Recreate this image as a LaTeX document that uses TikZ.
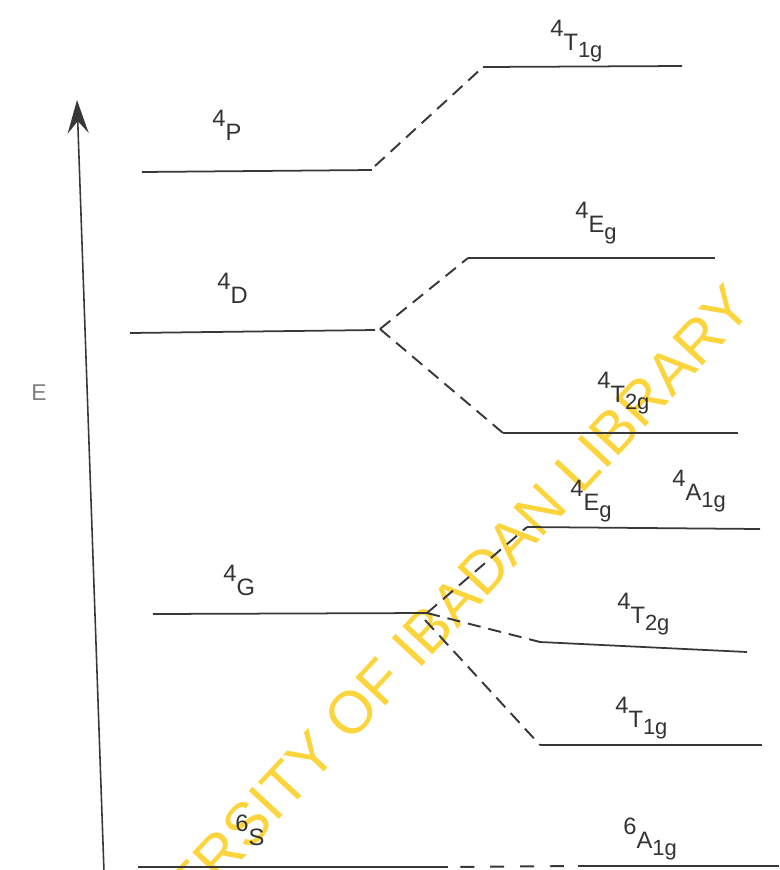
\documentclass[tikz,border=0pt]{standalone}
\usepackage{fontspec}
\setmainfont{Liberation Sans}
\usepackage{xcolor}
\usepackage{tikz}
\usetikzlibrary{arrows.meta, positioning, calc}

\definecolor{wmyellow}{RGB}{252,212,60}
\newcommand{\sterm}[3]{\raisebox{0.55em}{#1}#2\raisebox{-0.3em}{\fontsize{12.5}{12.5}\selectfont #3}}

\begin{document}
\begin{tikzpicture}[
    x=0.02cm, y=-0.02cm,
    lvl/.style={line width=1pt, draw=black!78},
    corr/.style={line width=1.1pt, draw=black!78, dash pattern=on 7.5pt off 4.5pt},
    lab/.style={anchor=base west, inner sep=0pt, text=black!80, font=\fontsize{13.5}{15}\selectfont},
    axis/.style={line width=0.9pt, draw=black!78, -{Stealth[length=19pt, width=12pt, inset=7pt]}},
    wmark/.style={text=wmyellow, rotate=47, anchor=mid east, inner sep=0pt, font=\fontsize{34}{34}\selectfont}
]
\useasboundingbox (0,0) rectangle (779,870);

% Watermark
\begin{scope}
\clip (0,0) rectangle (779,870);
\node[wmark] (stamp) at (752,306) {UNIVERSITY OF IBADAN LIBRARY};
\end{scope}

% Energy axis
\coordinate (ax0) at (104,872);
\coordinate (ax1) at (77,100);
\draw[axis] (ax0) -- (ax1);
\node[text=black!50, font=\fontsize{13}{15}\selectfont] (elab) at (39,393) {E};

% Free ion terms
\coordinate (P-l) at (142,172);  \coordinate (P-r) at (372,170);
\coordinate (D-l) at (130,333);  \coordinate (D-r) at (375,330);
\coordinate (G-l) at (153,614);  \coordinate (G-r) at (427,613);
\coordinate (S-l) at (138,867);  \coordinate (S-r) at (448,867);
\draw[lvl] (P-l) -- (P-r);
\draw[lvl] (D-l) -- (D-r);
\draw[lvl] (G-l) -- (G-r);
\draw[lvl] (S-l) -- (S-r);
\node[lab] (Plab) at (212,140) {\sterm{4}{P}{}};
\node[lab] (Dlab) at (217,303) {\sterm{4}{D}{}};
\node[lab] (Glab) at (223,595) {\sterm{4}{G}{}};
\node[lab] (Slab) at (235,845) {\sterm{6}{S}{}};

% Octahedral field terms
\coordinate (T1a-l) at (483,67);  \coordinate (T1a-r) at (682,66);
\coordinate (Ea-l) at (468,258);  \coordinate (Ea-r) at (715,258);
\coordinate (T2a-l) at (503,433); \coordinate (T2a-r) at (738,433);
\coordinate (EA-l) at (527,527);  \coordinate (EA-r) at (760,529);
\coordinate (T2b-l) at (540,642); \coordinate (T2b-r) at (747,652);
\coordinate (T1b-l) at (540,745); \coordinate (T1b-r) at (762,745);
\coordinate (A1-l) at (578,866);  \coordinate (A1-r) at (779,866);
\draw[lvl] (T1a-l) -- (T1a-r);
\draw[lvl] (Ea-l) -- (Ea-r);
\draw[lvl] (T2a-l) -- (T2a-r);
\draw[lvl] (EA-l) -- (EA-r);
\draw[lvl] (T2b-l) -- (T2b-r);
\draw[lvl] (T1b-l) -- (T1b-r);
\draw[lvl] (A1-l) -- (A1-r);
\node[lab] (T1alab) at (550,50) {\sterm{4}{T}{1g}};
\node[lab] (Ealab) at (575,232) {\sterm{4}{E}{g}};
\node[lab] (T2alab) at (597,402) {\sterm{4}{T}{2g}};
\node[lab] (Eblab) at (570,510) {\sterm{4}{E}{g}};
\node[lab] (A1blab) at (672,500) {\sterm{4}{A}{1g}};
\node[lab] (T2blab) at (617,623) {\sterm{4}{T}{2g}};
\node[lab] (T1blab) at (615,727) {\sterm{4}{T}{1g}};
\node[lab] (A1lab) at (623,848) {\sterm{6}{A}{1g}};

% Correlation lines
\coordinate (G-s) at (425,620);
\draw[corr] ($(P-r)+(3,-4)$) -- (T1a-l);
\draw[corr] ($(D-r)+(5,-1)$) -- (Ea-l);
\draw[corr] ($(D-r)+(5,-1)$) -- (T2a-l);
\draw[corr] (G-r) -- (EA-l);
\draw[corr] (G-r) -- (T2b-l);
\draw[corr] (G-s) -- (T1b-l);
\draw[corr, dash pattern=on 8pt off 9pt, dash phase=10pt] (S-r) -- (A1-l);

\end{tikzpicture}
\end{document}
